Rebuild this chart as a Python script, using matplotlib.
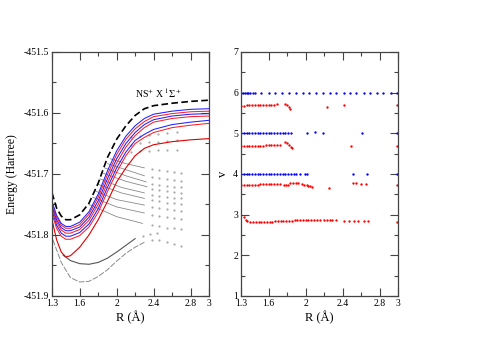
import matplotlib
matplotlib.use("Agg")
import matplotlib.pyplot as plt
from matplotlib.ticker import MultipleLocator, FixedLocator

plt.rcParams['font.family'] = ['Liberation Serif', 'DejaVu Serif']
plt.rcParams['mathtext.fontset'] = 'stix'

# ---- left panel: potential curves (Hartree) ----
R_grid = [1.30, 1.35, 1.40, 1.45, 1.50, 1.60, 1.70, 1.80, 1.90, 2.00, 2.10, 2.20, 2.30, 2.40, 2.60, 2.80, 3.00]
E_ref = [-451.731, -451.756, -451.769, -451.775, -451.775, -451.767, -451.748, -451.715, -451.673,
         -451.643, -451.621, -451.604, -451.593, -451.588, -451.584, -451.581, -451.579]
E_blue1 = [-451.745, -451.768, -451.781, -451.786, -451.786, -451.779, -451.762, -451.733, -451.695,
           -451.662, -451.638, -451.621, -451.609, -451.602, -451.597, -451.594, -451.593]
E_red1 = [-451.748, -451.771, -451.784, -451.789, -451.789, -451.783, -451.766, -451.738, -451.701,
          -451.668, -451.643, -451.626, -451.614, -451.606, -451.601, -451.598, -451.597]
E_blue2 = [-451.752, -451.775, -451.788, -451.793, -451.793, -451.787, -451.771, -451.744, -451.708,
           -451.675, -451.650, -451.632, -451.619, -451.611, -451.605, -451.602, -451.601]
E_red2 = [-451.756, -451.779, -451.792, -451.797, -451.797, -451.791, -451.776, -451.750, -451.715,
          -451.682, -451.656, -451.637, -451.624, -451.615, -451.609, -451.606, -451.605]
E_blue3 = [-451.760, -451.784, -451.797, -451.802, -451.802, -451.796, -451.782, -451.757, -451.722,
           -451.690, -451.664, -451.645, -451.635, -451.627, -451.619, -451.615, -451.612]
E_red3 = [-451.766, -451.789, -451.802, -451.807, -451.807, -451.801, -451.787, -451.763, -451.729,
          -451.697, -451.670, -451.650, -451.640, -451.632, -451.624, -451.620, -451.617]
E_red4 = [-451.775, -451.808, -451.828, -451.836, -451.834, -451.820, -451.800, -451.775, -451.745,
          -451.713, -451.690, -451.670, -451.658, -451.652, -451.647, -451.644, -451.642]

# gray crossing states (solid part, then dotted tail)
fan_R = [[1.93, 2.10, 2.30], [1.90, 2.10, 2.30], [1.87, 2.10, 2.32], [1.84, 2.10, 2.33],
         [1.82, 2.05, 2.30], [1.80, 2.05, 2.30], [1.77, 2.00, 2.30], [1.74, 2.00, 2.30],
         [1.70, 2.00, 2.28]]
fan_E = [[-451.675, -451.683, -451.690], [-451.683, -451.693, -451.703], [-451.690, -451.703, -451.713],
         [-451.698, -451.712, -451.721], [-451.708, -451.722, -451.731], [-451.717, -451.731, -451.740],
         [-451.728, -451.742, -451.751], [-451.738, -451.754, -451.764], [-451.750, -451.770, -451.781]]
tail_R = [2.38, 2.46, 2.54, 2.62, 2.70]
tail_E = [[-451.692, -451.694, -451.695, -451.697, -451.698],
          [-451.705, -451.707, -451.708, -451.710, -451.711],
          [-451.716, -451.718, -451.720, -451.721, -451.722],
          [-451.724, -451.726, -451.728, -451.729, -451.731],
          [-451.734, -451.736, -451.738, -451.739, -451.740],
          [-451.743, -451.745, -451.747, -451.748, -451.750],
          [-451.754, -451.756, -451.758, -451.759, -451.761],
          [-451.767, -451.769, -451.771, -451.772, -451.774],
          [-451.784, -451.786, -451.788, -451.789, -451.791]]
upper_R = [2.15, 2.25, 2.35, 2.45, 2.55, 2.65]
upper_E = [[-451.640, -451.638, -451.636, -451.634, -451.632, -451.631],
           [-451.652, -451.650, -451.648, -451.647, -451.646, -451.645],
           [-451.664, -451.663, -451.662, -451.661, -451.660, -451.660]]

low1_R = [1.42, 1.50, 1.60, 1.70, 1.80, 1.90, 2.00, 2.10, 2.20]
low1_E = [-451.833, -451.842, -451.847, -451.848, -451.845, -451.838, -451.828, -451.817, -451.806]
low1_tail_R = [2.28, 2.36, 2.44]
low1_tail_E = [-451.801, -451.798, -451.797]
low2_R = [1.31, 1.40, 1.50, 1.60, 1.70, 1.80, 1.90, 2.00, 2.10, 2.20, 2.30]
low2_E = [-451.808, -451.845, -451.870, -451.877, -451.876, -451.868, -451.857, -451.843, -451.830,
          -451.820, -451.812]
low2_tail_R = [2.38, 2.46, 2.54, 2.62, 2.70]
low2_tail_E = [-451.808, -451.809, -451.812, -451.815, -451.818]

E_ticks = [-451.9, -451.8, -451.7, -451.6, -451.5]
E_labels = ['-451.9', '-451.8', '-451.7', '-451.6', '-451.5']
R_ticks = [1.3, 1.6, 2.0, 2.4, 2.8, 3.0]
R_labels = ['1.3', '1.6', '2', '2.4', '2.8', '3']

# ---- right panel: vibrational levels ----
v6_R = [1.30, 1.32, 1.34, 1.36, 1.38, 1.40, 1.43, 1.45, 1.52, 1.60, 1.67, 1.74, 1.82, 1.89, 1.97,
        2.04, 2.11, 2.19, 2.26, 2.33, 2.41, 2.48, 2.55, 2.63, 2.70, 2.77, 2.84, 2.92, 2.99]
v6_v = [6.0, 6.0, 6.0, 6.0, 6.0, 6.0, 6.0, 6.0, 6.0, 6.0, 6.0, 6.0, 6.0, 6.0, 6.0,
        6.0, 6.0, 6.0, 6.0, 6.0, 6.0, 6.0, 6.0, 6.0, 6.0, 6.0, 6.0, 6.0, 6.0]
v57_R = [1.30, 1.33, 1.36, 1.39, 1.42, 1.45, 1.48, 1.51, 1.54, 1.57, 1.60, 1.63, 1.66, 1.69,
         1.78, 1.80, 1.82, 1.83, 2.23, 2.42, 2.99]
v57_v = [5.68, 5.68, 5.685, 5.685, 5.69, 5.69, 5.69, 5.695, 5.695, 5.70, 5.70, 5.70, 5.70, 5.71,
         5.72, 5.69, 5.65, 5.61, 5.65, 5.69, 5.69]
v5_R = [1.30, 1.33, 1.36, 1.39, 1.42, 1.45, 1.48, 1.51, 1.54, 1.57, 1.60, 1.63, 1.66, 1.69, 1.72,
        1.75, 1.78, 1.81, 1.84, 2.01, 2.10, 2.19, 2.61, 2.99]
v5_v = [5.0, 5.0, 5.0, 5.0, 5.0, 5.0, 5.0, 5.0, 5.0, 5.0, 5.0, 5.0, 5.0, 5.0, 5.0,
        5.0, 5.0, 5.01, 5.01, 5.02, 5.03, 5.0, 5.0, 5.0]
v47_R = [1.30, 1.33, 1.36, 1.39, 1.42, 1.45, 1.48, 1.51, 1.54, 1.57, 1.60, 1.63, 1.66, 1.69, 1.72,
         1.78, 1.80, 1.82, 1.84, 1.85, 2.49, 2.99]
v47_v = [4.69, 4.69, 4.695, 4.695, 4.70, 4.70, 4.70, 4.70, 4.70, 4.705, 4.705, 4.705, 4.71, 4.71, 4.71,
         4.78, 4.75, 4.71, 4.67, 4.65, 4.70, 4.69]
v4_R = [1.30, 1.33, 1.36, 1.39, 1.42, 1.45, 1.48, 1.51, 1.54, 1.57, 1.60, 1.63, 1.66, 1.69, 1.72,
        1.75, 1.78, 1.81, 1.84, 1.87, 1.90, 1.94, 1.99, 2.01, 2.51, 2.66, 2.99]
v4_v = [4.0, 4.0, 4.0, 4.0, 4.0, 4.0, 4.0, 4.0, 4.0, 4.0, 4.0, 4.0, 4.0, 4.0, 4.0,
        4.0, 4.0, 4.0, 4.0, 4.0, 4.0, 4.0, 4.0, 4.0, 4.01, 4.01, 4.0]
v37_R = [1.30, 1.33, 1.36, 1.39, 1.42, 1.45, 1.48, 1.51, 1.54, 1.57, 1.60, 1.63, 1.66, 1.69, 1.72,
         1.77, 1.79, 1.81, 1.83, 1.86, 1.89, 1.92, 1.96, 1.98, 2.01, 2.03, 2.05, 2.07,
         2.25, 2.51, 2.55, 2.60, 2.65, 2.99]
v37_v = [3.73, 3.73, 3.735, 3.735, 3.74, 3.74, 3.74, 3.745, 3.745, 3.745, 3.75, 3.75, 3.75, 3.755, 3.755,
         3.74, 3.73, 3.72, 3.79, 3.79, 3.78, 3.78, 3.76, 3.74, 3.72, 3.70, 3.71, 3.68,
         3.66, 3.77, 3.77, 3.76, 3.76, 3.74]
v28_R = [1.33, 1.35, 1.37, 1.40, 1.43, 1.46, 1.49, 1.52, 1.55, 1.58, 1.61, 1.64, 1.67, 1.70, 1.73,
         1.76, 1.79, 1.82, 1.85, 1.88, 1.91, 1.94, 1.97, 2.00, 2.03, 2.06, 2.09, 2.12, 2.15,
         2.20, 2.23, 2.26, 2.28, 2.33, 2.41, 2.47, 2.52, 2.57, 2.63, 2.67, 2.99]
v28_v = [2.93, 2.88, 2.84, 2.82, 2.82, 2.82, 2.825, 2.825, 2.83, 2.83, 2.83, 2.83, 2.835, 2.835, 2.835,
         2.84, 2.84, 2.84, 2.84, 2.875, 2.875, 2.875, 2.875, 2.875, 2.875, 2.875, 2.88, 2.88, 2.88,
         2.86, 2.86, 2.86, 2.86, 2.86, 2.85, 2.85, 2.85, 2.84, 2.84, 2.84, 2.81]

fig = plt.figure(figsize=(4.78, 3.38), dpi=100)
ax1 = fig.add_axes([0.1088, 0.1243, 0.3285, 0.7219])
ax2 = fig.add_axes([0.5042, 0.1243, 0.3285, 0.7219])

for i in range(len(fan_R)):
    ax1.plot(fan_R[i], fan_E[i], color='#808080', lw=0.55)
    ax1.plot(tail_R, tail_E[i], ls='none', marker='.', ms=1.1, color='#a0a0a0')
for row in upper_E:
    ax1.plot(upper_R, row, ls='none', marker='.', ms=1.1, color='#a0a0a0')
ax1.plot(low1_R, low1_E, color='#555555', lw=0.8)
ax1.plot(low1_tail_R, low1_tail_E, ls='none', marker='.', ms=1.1, color='#a0a0a0')
ax1.plot(low2_R, low2_E, color='#8a8a8a', lw=0.7, ls=(0, (6, 1.5)))
ax1.plot(low2_tail_R, low2_tail_E, ls='none', marker='.', ms=1.1, color='#a0a0a0')

ax1.plot(R_grid, E_red4, color='#e00000', lw=0.8)
for E, c in [(E_red3, '#ff2020'), (E_blue3, '#2020ff'), (E_red2, '#ff2020'),
             (E_blue2, '#2020ff'), (E_red1, '#ff2020'), (E_blue1, '#2020ff')]:
    ax1.plot(R_grid, E, color=c, lw=0.75)
ax1.plot(R_grid, E_ref, color='black', lw=1.2, ls=(0, (4, 2)))
ax1.text(2.2, -451.567, r'NS$^{+}$ X $^{1}\Sigma^{+}$', fontsize=7, va='center')

ax1.set_xlim(1.3, 3.0)
ax1.set_ylim(-451.9, -451.5)
ax1.set_ylabel('Energy (Hartree)', fontsize=8.5, labelpad=4)
ax1.yaxis.set_major_locator(FixedLocator(E_ticks))
ax1.yaxis.set_minor_locator(MultipleLocator(0.05))
ax1.set_yticklabels(E_labels)

ax2s = [(v6_R, v6_v, 'blue'), (v57_R, v57_v, 'red'), (v5_R, v5_v, 'blue'),
        (v47_R, v47_v, 'red'), (v4_R, v4_v, 'blue'), (v37_R, v37_v, 'red'), (v28_R, v28_v, 'red')]
for R, v, c in ax2s:
    ax2.plot(R, v, ls='none', marker='o', ms=1.7, mew=0, color=c)
ax2.set_xlim(1.3, 3.0)
ax2.set_ylim(1, 7)
ax2.set_ylabel('v', fontsize=9, labelpad=3)
ax2.yaxis.set_major_locator(MultipleLocator(1))
ax2.yaxis.set_minor_locator(MultipleLocator(0.5))

for ax in (ax1, ax2):
    ax.xaxis.set_major_locator(FixedLocator(R_ticks))
    ax.set_xticklabels(R_labels)
    ax.xaxis.set_minor_locator(FixedLocator([1.8, 2.2, 2.6]))
    ax.set_xlabel('R (Å)', fontsize=9, labelpad=2)
    ax.tick_params(which='both', direction='in', top=True, right=True, labelsize=7, pad=2,
                   color='#444444', width=0.8)
    ax.tick_params(which='major', length=6)
    ax.tick_params(which='minor', length=3)
    for s in ax.spines.values():
        s.set_color('#444444')
        s.set_linewidth(0.9)

fig.savefig('out.png', dpi=100)
